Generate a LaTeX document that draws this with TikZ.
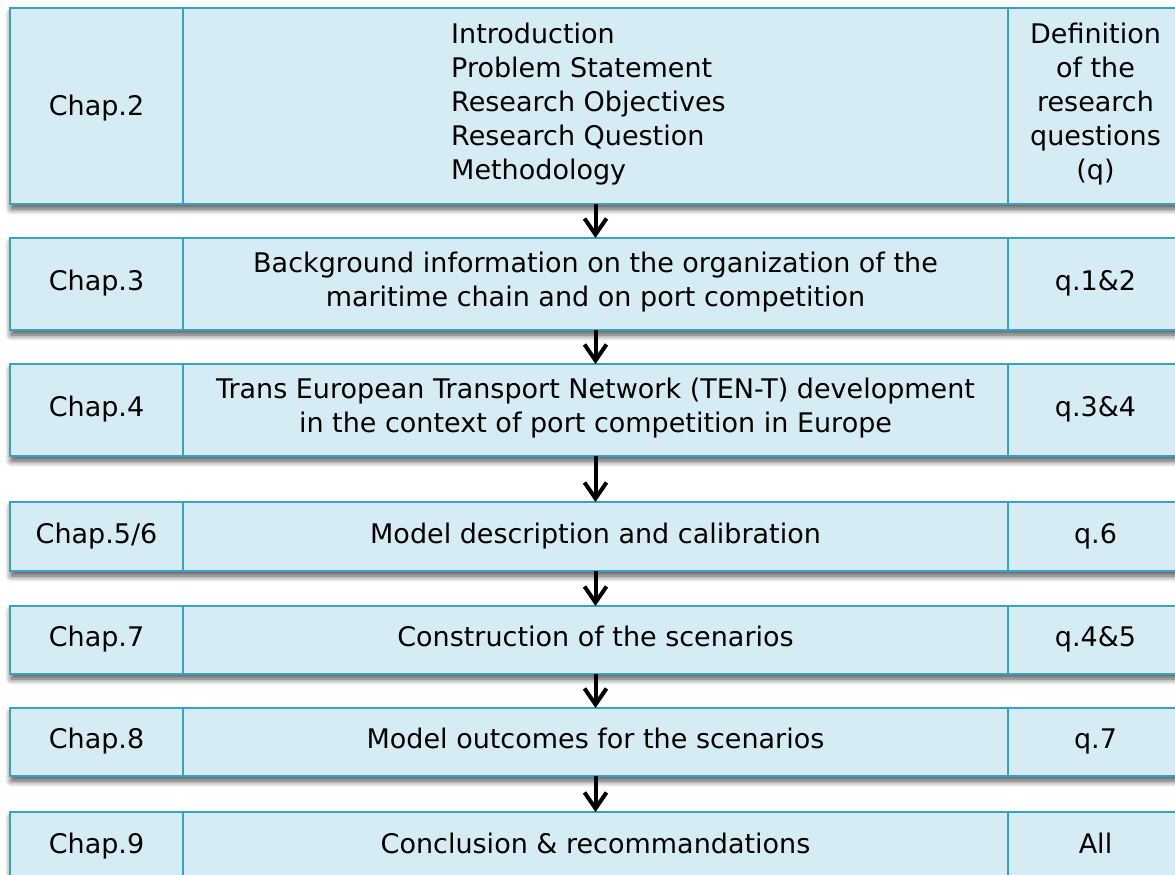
\documentclass[tikz,border=0pt]{standalone}
\usepackage{fontspec}
\setmainfont{DejaVu Sans}
\usetikzlibrary{arrows.meta,shadows.blur}
\definecolor{cellfill}{RGB}{213,236,244}
\definecolor{cellline}{RGB}{56,162,196}

% taller invisible rule that sets the text of a cell a little lower
\newcommand\lowstrut{\rule[-7pt]{0pt}{37pt}}

\tikzset{
  cell/.style={draw=cellline, fill=cellfill, line width=2.2pt, inner sep=0pt,
    outer sep=0pt, anchor=north west, align=center,
    font=\fontsize{27}{34}\selectfont,
    execute at begin node=\strut, execute at end node=\strut},
  lowered/.style={execute at begin node=\lowstrut, execute at end node=\lowstrut},
  rowshadow/.style={blur shadow={shadow xshift=1pt, shadow yshift=-5pt,
    shadow blur radius=6pt, shadow blur steps=8, shadow opacity=70}},
  flow/.style={line width=4pt,
    -{Straight Barb[length=16pt, width=22pt, line width=4pt]}},
}

% one chapter row: [extra cell style] name, top, height, chapter, topic, questions, topic alignment
\newcommand\flowrow[8][]{%
  \path[rowshadow] (10,#3) rectangle ++(1173,#4);
  \node[cell, #1, minimum width=173pt, minimum height=#4pt] (#2l) at (10,#3) {#5};
  \node[cell, #1, minimum width=825pt, minimum height=#4pt, align=#8] (#2m) at (183,#3) {#6};
  \node[cell, #1, minimum width=175pt, minimum height=#4pt] (#2r) at (1008,#3) {#7};
}

\begin{document}
\begin{tikzpicture}[x=1pt, y=-1pt]
  \useasboundingbox (0,0) rectangle (1175,875);
  \clip (0,0) rectangle (1175,875);

  \flowrow[lowered]{a}{8}{196}{Chap.2}
    {Introduction\\Problem Statement\\Research Objectives\rule{14pt}{0pt}\\Research Question\\Methodology}
    {Definition\\of the\\research\\questions\\(q)}{left}
  \flowrow{b}{238}{92}{Chap.3}
    {Background information on the organization of the\\maritime chain and on port competition}
    {q.1\&2}{center}
  \flowrow{c}{364}{92}{Chap.4}
    {Trans European Transport Network (TEN-T) development\\in the context of port competition in Europe}
    {q.3\&4}{center}
  \flowrow{d}{502}{69}{Chap.5/6}
    {Model description and calibration}
    {q.6}{center}
  \flowrow{e}{606}{68}{Chap.7}
    {Construction of the scenarios}
    {q.4\&5}{center}
  \flowrow{f}{708}{68}{Chap.8}
    {Model outcomes for the scenarios}
    {q.7}{center}
  \flowrow{g}{812}{70}{Chap.9}
    {Conclusion \& recommandations}
    {All}{center}

  \draw[flow] (am.south) -- (bm.north);
  \draw[flow] (bm.south) -- (cm.north);
  \draw[flow] (cm.south) -- (dm.north);
  \draw[flow] (dm.south) -- (em.north);
  \draw[flow] (em.south) -- (fm.north);
  \draw[flow] (fm.south) -- (gm.north);
\end{tikzpicture}
\end{document}
